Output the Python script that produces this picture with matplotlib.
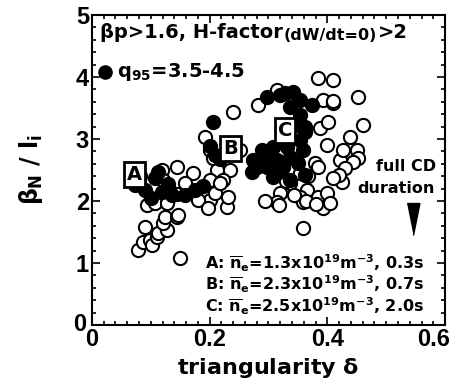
import matplotlib
matplotlib.use("Agg")
import matplotlib.pyplot as plt
import matplotlib.transforms as mtransforms
from matplotlib.ticker import MultipleLocator

plt.rcParams['font.family'] = ['Liberation Sans', 'DejaVu Sans']
plt.rcParams['font.weight'] = 'bold'
plt.rcParams['mathtext.fontset'] = 'custom'
plt.rcParams['mathtext.rm'] = 'DejaVu Sans:bold'
plt.rcParams['mathtext.it'] = 'DejaVu Sans:bold'
plt.rcParams['mathtext.bf'] = 'DejaVu Sans:bold'

# Discharges with q95 outside 3.5-4.5 (open symbols)
open_delta = [
    0.078, 0.087, 0.099, 0.102, 0.111, 0.112, 0.090, 0.128, 0.121, 0.124,
    0.145, 0.146, 0.094, 0.107, 0.128, 0.150, 0.119, 0.121, 0.145, 0.172,
    0.158, 0.129, 0.145, 0.201, 0.180,
    0.192, 0.201, 0.206, 0.252, 0.213, 0.235, 0.223, 0.201, 0.197, 0.230,
    0.209, 0.231, 0.218, 0.240, 0.282,
    0.384, 0.410, 0.452, 0.315, 0.393, 0.410, 0.461, 0.388, 0.401, 0.439,
    0.400, 0.451, 0.452, 0.422, 0.444, 0.379, 0.384, 0.425, 0.354, 0.337,
    0.366, 0.320, 0.354, 0.384, 0.400, 0.315, 0.359, 0.393, 0.405, 0.359,
    0.427, 0.430, 0.420, 0.367, 0.330, 0.343, 0.364, 0.380, 0.294, 0.318,
    0.410, 0.409,
]
open_bn_li = [
    1.21, 1.34, 1.37, 1.29, 1.42, 1.48, 1.58, 1.53, 1.65, 1.74,
    1.74, 1.77, 1.94, 1.97, 1.97, 1.08, 2.50, 2.34, 2.55, 2.45,
    2.29, 2.23, 2.11, 2.02, 2.02,
    3.03, 2.82, 2.69, 2.82, 2.50, 2.50, 2.34, 2.34, 1.89, 1.90,
    2.13, 2.06, 2.29, 3.44, 3.55,
    3.98, 3.95, 3.68, 3.79, 3.63, 3.58, 3.23, 3.18, 3.27, 3.03,
    2.90, 2.82, 2.69, 2.66, 2.63, 2.61, 2.55, 2.31, 2.45, 2.29,
    2.18, 2.13, 2.06, 2.06, 2.13, 1.98, 1.98, 1.89, 1.97, 1.56,
    2.82, 2.53, 2.42, 2.40, 2.32, 2.10, 2.00, 1.95, 2.00, 1.93,
    2.37, 3.61,
]

# Discharges with q95 = 3.5-4.5 (filled symbols)
filled_delta = [
    0.073, 0.090, 0.107, 0.119, 0.136, 0.158, 0.175, 0.188, 0.100, 0.130,
    0.081, 0.112,
    0.206, 0.201, 0.209, 0.218,
    0.298, 0.320, 0.342, 0.354, 0.374, 0.337, 0.328, 0.354, 0.359, 0.332,
    0.308, 0.298, 0.274, 0.281, 0.298, 0.315, 0.325, 0.315, 0.337, 0.350,
    0.308, 0.354, 0.345, 0.362, 0.337, 0.362, 0.289, 0.272, 0.362,
]
filled_bn_li = [
    2.26, 2.18, 2.37, 2.15, 2.10, 2.10, 2.18, 2.24, 2.05, 2.27,
    2.40, 2.47,
    3.27, 2.89, 2.74, 2.68,
    3.68, 3.71, 3.76, 3.63, 3.55, 3.52, 3.74, 2.98, 2.82, 2.87,
    2.87, 2.71, 2.66, 2.55, 2.55, 2.66, 2.55, 2.45, 2.71, 2.61,
    2.39, 3.39, 3.23, 3.11, 2.34, 2.42, 2.82, 2.47, 3.20,
]

# Labelled discharges A, B, C
label_names = ['A', 'B', 'C']
label_delta = [0.073, 0.235, 0.328]
label_bn_li = [2.42, 2.85, 3.13]
label_texts = [
    r"A: $\overline{\mathrm{n}}_\mathrm{e}$=1.3x10$^{19}$m$^{-3}$, 0.3s",
    r"B: $\overline{\mathrm{n}}_\mathrm{e}$=2.3x10$^{19}$m$^{-3}$, 0.7s",
    r"C: $\overline{\mathrm{n}}_\mathrm{e}$=2.5x10$^{19}$m$^{-3}$, 2.0s",
]

xticks = [0, 0.2, 0.4, 0.6]
xtick_labels = ['0', '0.2', '0.4', '0.6']
yticks = [0, 1, 2, 3, 4, 5]

dv = ['DejaVu Sans']

fig = plt.figure(figsize=(4.57, 3.92), dpi=100)
ax = fig.add_axes([0.201, 0.171, 0.773, 0.791])

ms = 9.5
ax.plot(open_delta, open_bn_li, 'o', ms=ms, mfc='white', mec='black',
        mew=1.5, ls='none', zorder=2)
ax.plot(filled_delta, filled_bn_li, 'o', ms=ms, mfc='black', mec='black',
        mew=1.5, ls='none', zorder=3)

for name, xd, yd in zip(label_names, label_delta, label_bn_li):
    ax.text(xd, yd, name, ha='center', va='center', fontsize=14,
            fontweight='bold', family=dv, zorder=5,
            bbox=dict(boxstyle='square,pad=0.15', fc='white', ec='black', lw=2))

# legend-style marker for q95 range
ax.plot([0.022], [4.08], 'o', ms=ms, mfc='black', mec='black', zorder=4,
        clip_on=False)
ax.text(0.042, 4.08, r"q$_{95}$=3.5-4.5", fontsize=14, va='center',
        ha='left', family=dv)

# selection criteria, composed of three pieces
t1 = ax.text(0.013, 4.63, "βp>1.6, H-factor", fontsize=14, va='baseline',
             ha='left', family=dv)
t2 = ax.annotate("(dW/dt=0)", xy=(1, 0), xycoords=t1, xytext=(1, -1),
                 textcoords='offset points', fontsize=11.5, va='bottom',
                 ha='left', family=dv)
t3 = ax.annotate(">2", xy=(1, 0), xycoords=(t2, t1), xytext=(0.5, 0),
                 textcoords='offset points', fontsize=14, va='bottom',
                 ha='left', family=dv)

ax.text(0.585, 2.55, "full CD", fontsize=11.5, ha='right', va='center',
        family=dv)
ax.text(0.583, 2.20, "duration", fontsize=11.5, ha='right', va='center',
        family=dv)
tri = [(-0.4, 1.0), (0.4, 1.0), (0.0, -1.0)]
ax.plot([0.546], [1.71], marker=tri, ms=23, mfc='black', mec='black', ls='none')

for i, s in enumerate(label_texts):
    ax.text(0.192, 1.00 - 0.35 * i, s, fontsize=11.5, ha='left', va='center',
            family=dv, zorder=6)

ax.set_xlim(0, 0.6)
ax.set_ylim(0, 5)
ax.set_xticks(xticks)
ax.set_xticklabels(xtick_labels)
ax.set_yticks(yticks)
ax.xaxis.set_minor_locator(MultipleLocator(0.02))
ax.yaxis.set_minor_locator(MultipleLocator(0.2))
ax.tick_params(which='both', direction='in', top=True, right=True, width=1.2)
ax.tick_params(which='major', length=6, labelsize=17, pad=2)
ax.tick_params(which='minor', length=3)
for lab in ax.get_xticklabels() + ax.get_yticklabels():
    lab.set_fontweight('bold')
for sp in ax.spines.values():
    sp.set_linewidth(1.5)

ax.set_xlabel(r"triangularity $\delta$", fontsize=16, fontweight='bold',
              family=dv, labelpad=4)
ax.set_ylabel(r"$\beta_\mathrm{N}$ / l$_\mathrm{i}$", fontsize=17,
              fontweight='bold', family=dv, labelpad=20)

last = ax.get_xticklabels()[-1]
last.set_transform(last.get_transform() +
                   mtransforms.ScaledTranslation(-12 / 100, 0, fig.dpi_scale_trans))
first = ax.get_yticklabels()[0]
first.set_transform(first.get_transform() +
                    mtransforms.ScaledTranslation(-3 / 100, 3 / 100, fig.dpi_scale_trans))

fig.savefig('out.png', dpi=100)
